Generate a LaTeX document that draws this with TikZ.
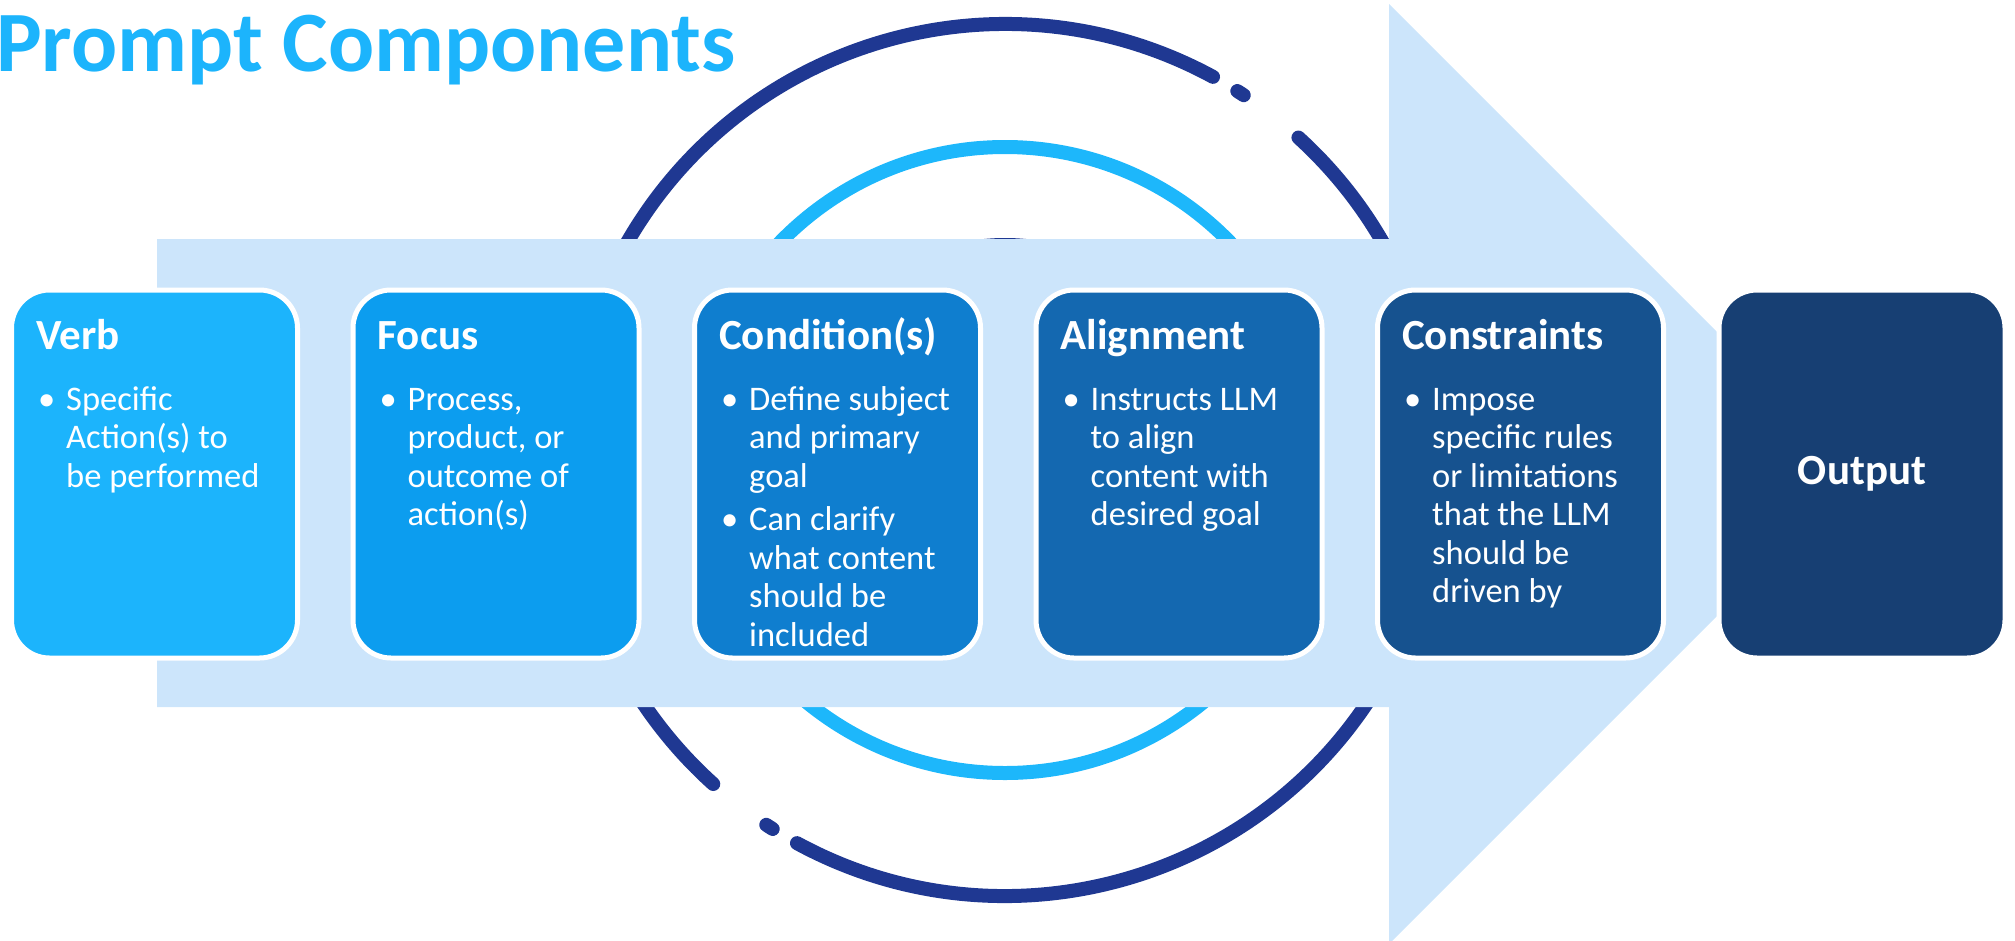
\documentclass[tikz,border=0pt]{standalone}
\usepackage{fontspec}
\setmainfont{Carlito}
\usetikzlibrary{positioning}

\definecolor{titleblue}{HTML}{1CB4FC}
\definecolor{bandblue}{HTML}{CCE5FB}
\definecolor{ringnavy}{HTML}{1F3892}
\definecolor{ringsky}{HTML}{1DB7FB}
\definecolor{verbfill}{HTML}{1CB4FC}
\definecolor{focusfill}{HTML}{0C9DEF}
\definecolor{condfill}{HTML}{0F7ECF}
\definecolor{alignfill}{HTML}{1468B0}
\definecolor{limitfill}{HTML}{16528F}
\definecolor{outfill}{HTML}{173F73}

% bullet and hanging indent for the box texts
\newcommand{\bul}{\makebox[30pt][l]{\hspace{2pt}•}}
\newcommand{\ind}{\hspace*{30pt}}

\tikzset{
  stage/.style={rectangle, rounded corners=38pt, draw=white, line width=5pt,
    minimum width=286pt, minimum height=368pt, inner sep=0pt},
  head/.style={anchor=base west, inner sep=0pt, text=white,
    font=\fontsize{43}{48}\selectfont\bfseries},
  body/.style={anchor=base west, inner sep=0pt, text=white,
    font=\fontsize{34.5}{38.5}\selectfont},
  ring/.style={line width=14pt, line cap=round},
}

\begin{document}
\begin{tikzpicture}[x=1pt, y=-1pt]
    \useasboundingbox (0,0) rectangle (2015,940);

    % Title
    \node[anchor=base west, inner sep=0pt, text=titleblue,
      font=\fontsize{86}{92}\selectfont\bfseries] (title) at (-4,71) {Prompt Components};

    % Rings
    \coordinate (ring) at (1005,460);
    \draw[ring, ringnavy] (ring) circle[radius=215];
    \draw[ring, ringsky] (ring) circle[radius=313];
    \draw[ring, ringnavy] ([shift={(-61.5:436)}]ring) arc[start angle=-61.5, end angle=-228, radius=436];
    \draw[ring, ringnavy] ([shift={(-241.5:436)}]ring) arc[start angle=-241.5, end angle=-407.7, radius=436];
    \draw[ring, ringnavy] ([shift={(-56.8:436)}]ring) arc[start angle=-56.8, end angle=-57.8, radius=436];
    \draw[ring, ringnavy] ([shift={(-236.8:436)}]ring) arc[start angle=-236.8, end angle=-237.8, radius=436];

    % Arrow
    \fill[bandblue] (157,239) -- (1389,239) -- (1389,4) -- (1859,474)
      -- (1389,944) -- (1389,707) -- (157,707) -- cycle;

    % Boxes
    \node[stage, fill=verbfill] (verb) at (154.5,474) {};
    \node[stage, fill=focusfill, right=50.5pt of verb] (focus) {};
    \node[stage, fill=condfill, right=50.5pt of focus] (condition) {};
    \node[stage, fill=alignfill, right=50.5pt of condition] (alignment) {};
    \node[stage, fill=limitfill, right=50.5pt of alignment] (constraints) {};
    \node[stage, fill=outfill, right=50.5pt of constraints] (output) {};

    % Box texts
    \node[head] (verbhead) at ([shift={(27,61.5)}]verb.north west) {Verb};
    \node[body] (verbtext) at ([shift={(27,122.5)}]verb.north west)
      {\begin{tabular}[t]{@{}l@{}}\bul Specific\\ \ind Action(s) to\\ \ind be performed\end{tabular}};

    \node[head] (focushead) at ([shift={(27,61.5)}]focus.north west) {Focus};
    \node[body] (focustext) at ([shift={(27,122.5)}]focus.north west)
      {\begin{tabular}[t]{@{}l@{}}\bul Process,\\ \ind product, or\\ \ind outcome of\\ \ind action(s)\end{tabular}};

    \node[head] (condhead) at ([shift={(27,61.5)}]condition.north west) {Condition(s)};
    \node[body] (condtext) at ([shift={(27,122.5)}]condition.north west)
      {\begin{tabular}[t]{@{}l@{}}\bul Define subject\\ \ind and primary\\ \ind goal\\[5pt]
        \bul Can clarify\\ \ind what content\\ \ind should be\\ \ind included\end{tabular}};

    \node[head] (alignhead) at ([shift={(27,61.5)}]alignment.north west) {Alignment};
    \node[body] (aligntext) at ([shift={(27,122.5)}]alignment.north west)
      {\begin{tabular}[t]{@{}l@{}}\bul Instructs LLM\\ \ind to align\\ \ind content with\\ \ind desired goal\end{tabular}};

    \node[head] (limithead) at ([shift={(27,61.5)}]constraints.north west) {Constraints};
    \node[body] (limittext) at ([shift={(27,122.5)}]constraints.north west)
      {\begin{tabular}[t]{@{}l@{}}\bul Impose\\ \ind specific rules\\ \ind or limitations\\ \ind that the LLM\\ \ind should be\\ \ind driven by\end{tabular}};

    \node[head, anchor=base] (outhead) at ([shift={(0,10)}]output.center) {Output};

\end{tikzpicture}
\end{document}
